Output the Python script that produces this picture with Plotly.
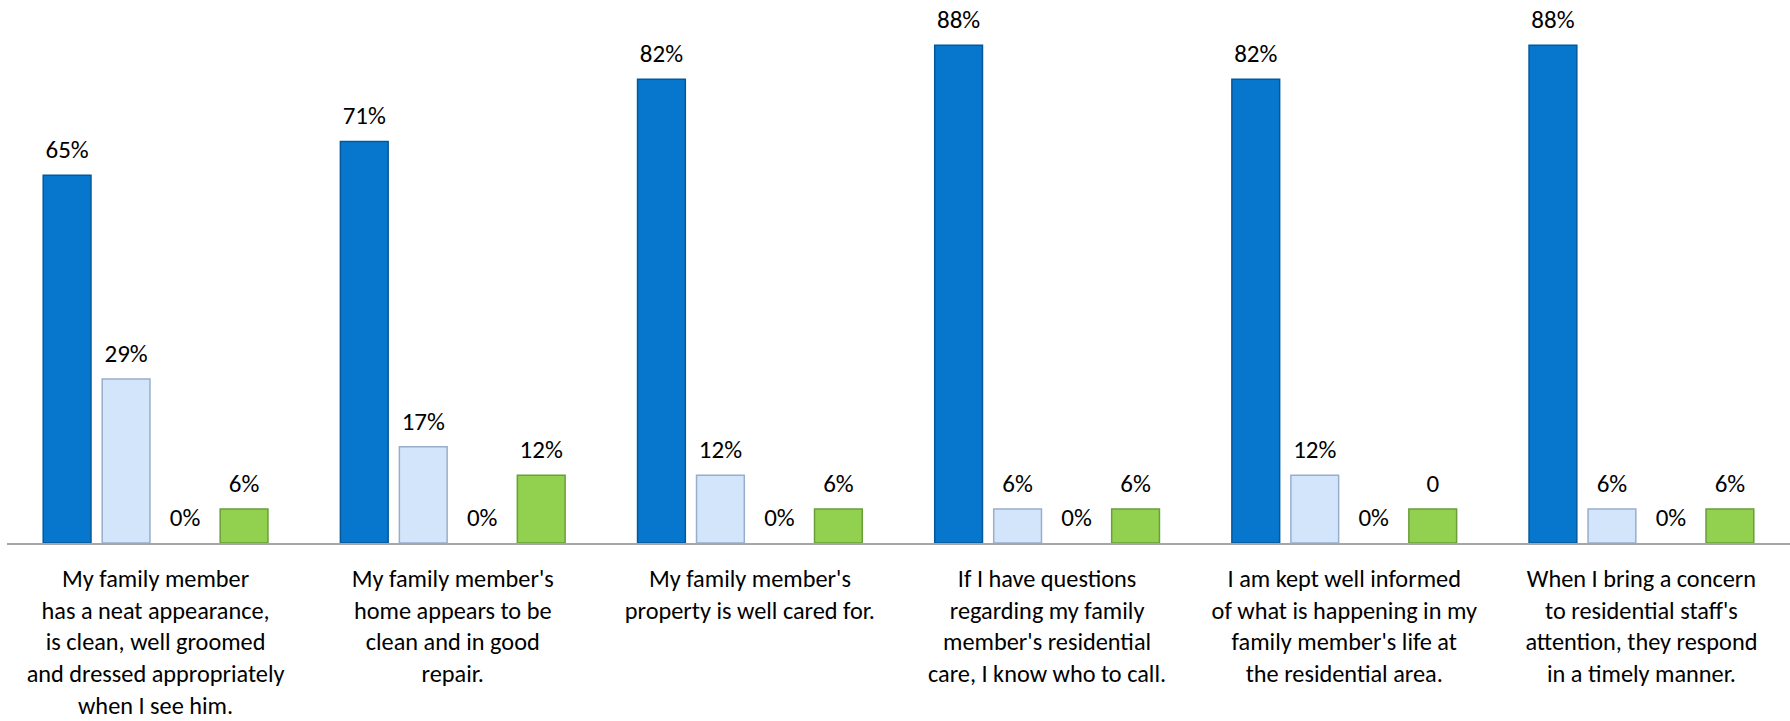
import plotly.graph_objects as go

# Survey statements (category axis)
categories = [
    "My family member<br>has a neat appearance,<br>is clean, well groomed<br>and dressed appropriately<br>when I see him.",
    "My family member's<br>home appears to be<br>clean and in good<br>repair.",
    "My family member's<br>property is well cared for.",
    "If I have questions<br>regarding my family<br>member's residential<br>care, I know who to call.",
    "I am kept well informed<br>of what is happening in my<br>family member's life at<br>the residential area.",
    "When I bring a concern<br>to residential staff's<br>attention, they respond<br>in a timely manner.",
]

# Response shares (%) per answer option
agree = [65, 71, 82, 88, 82, 88]
somewhat = [29, 17, 12, 6, 12, 6]
disagree = [0, 0, 0, 0, 0, 0]
no_answer = [6, 12, 6, 6, 6, 6]

# Printed labels for each series
agree_labels = [f"{v}%" for v in agree]
somewhat_labels = [f"{v}%" for v in somewhat]
disagree_labels = [f"{v}%" for v in disagree]
no_answer_labels = ["6%", "12%", "6%", "6%", "0", "6%"]

FONT = "Calibri, Carlito, Lato, sans-serif"

series = [
    ("Agree", agree, agree_labels, "#0677CC", "#04589A", 1.5),
    ("Somewhat", somewhat, somewhat_labels, "#D3E5FA", "#98AECB", 1.5),
    ("Disagree", disagree, disagree_labels, "#C0504D", "#8C3836", 0),
    ("No answer", no_answer, no_answer_labels, "#92D050", "#6A9E3A", 1.5),
]

fig = go.Figure()
for i, (name, vals, labels, fill, edge, lw) in enumerate(series):
    fig.add_trace(go.Bar(
        x=categories, y=vals, name=name,
        offsetgroup=f"g{i}", alignmentgroup="a",
        marker=dict(color=fill, line=dict(color=edge, width=lw)),
        hoverinfo="skip",
    ))
for i, (name, vals, labels, fill, edge, lw) in enumerate(series):
    fig.add_trace(go.Scatter(
        x=categories, y=vals, mode="markers+text",
        offsetgroup=f"g{i}", alignmentgroup="a",
        text=labels, textposition="top center",
        textfont=dict(family=FONT, size=25, color="#000000"),
        marker=dict(size=16, color="rgba(0,0,0,0)"),
        cliponaxis=False, showlegend=False, hoverinfo="skip",
    ))

fig.update_layout(
    width=1790, height=721,
    margin=dict(l=7, r=0, t=0, b=178),
    paper_bgcolor="white", plot_bgcolor="white",
    barmode="group", scattermode="group",
    bargap=0.206, bargroupgap=0.19, scattergap=0.206,
    showlegend=False,
    font=dict(family=FONT, size=24.3, color="#000000"),
)
fig.update_xaxes(
    showline=True, linecolor="#A6A6A6", linewidth=2,
    showgrid=False, ticks="", ticklabelstandoff=13, automargin=False,
    tickfont=dict(family=FONT, size=24.3, color="#000000"),
)
fig.update_yaxes(
    range=[0, 96], visible=False, showgrid=False, zeroline=False,
    automargin=False,
)

fig.write_html("out.html")
